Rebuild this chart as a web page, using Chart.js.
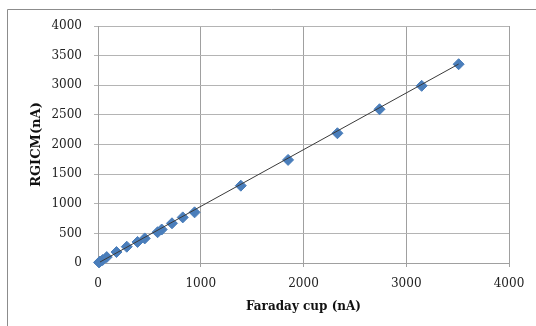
<!DOCTYPE html>
<html>
<head>
<meta charset="utf-8">
<script src="https://cdn.jsdelivr.net/npm/chart.js@4"></script>
<style>
  html, body { margin: 0; padding: 0; background: #fff; }
  canvas { display: block; }
</style>
</head>
<body>
<canvas id="chart" width="536" height="326"></canvas>
<script>
// Faraday cup vs RGICM beam current (nA)
const faraday = [10, 20, 45, 85, 180, 280, 385, 455, 580, 620, 720, 825, 940, 1390, 1850, 2330, 2740, 3150, 3510];
const rgicm = [10, 25, 50, 100, 185, 275, 355, 415, 520, 565, 670, 770, 855, 1305, 1740, 2190, 2595, 2990, 3355];

// trendline ends
const trendX = [20, 3510];
const trendY = [17, 3358];

const xTitle = 'Faraday cup (nA)';
const yTitle = 'RGICM(nA)';

// outer frame of the chart (cropped on right and bottom)
const framePlugin = {
    id: 'frame',
    beforeDraw(chart) {
        const ctx = chart.ctx;
        ctx.save();
        ctx.fillStyle = '#fff';
        ctx.fillRect(0, 0, chart.width, chart.height);
        ctx.strokeStyle = '#8c8c8c';
        ctx.lineWidth = 1;
        ctx.beginPath();
        ctx.moveTo(7.5, chart.height);
        ctx.lineTo(7.5, 9.5);
        ctx.lineTo(chart.width, 9.5);
        ctx.stroke();
        ctx.restore();
    }
};

const tickFont = { family: '"DejaVu Serif", serif', size: 12 };

new Chart(document.getElementById('chart'), {
    type: 'scatter',
    data: {
        datasets: [{
            label: 'RGICM',
            data: faraday.map((x, i) => ({ x: x, y: rgicm[i] })),
            pointStyle: 'rectRot',
            pointRadius: 5.5,
            pointHoverRadius: 5.5,
            backgroundColor: '#4a7ebb',
            borderColor: '#4a7ebb',
            borderWidth: 1,
            clip: false,
            order: 2
        }, {
            label: 'Linear',
            type: 'line',
            data: trendX.map((x, i) => ({ x: x, y: trendY[i] })),
            borderColor: '#3a3a3a',
            borderWidth: 1,
            pointRadius: 0,
            fill: false,
            order: 1
        }]
    },
    options: {
        responsive: false,
        animation: false,
        layout: {
            padding: { top: 26, right: 27, bottom: 8, left: 10 }
        },
        plugins: {
            legend: { display: false },
            tooltip: { enabled: false }
        },
        scales: {
            x: {
                type: 'linear',
                min: 0,
                max: 4000,
                ticks: {
                    stepSize: 1000, color: '#222', font: tickFont, padding: 10,
                    maxRotation: 0, autoSkip: false,
                    callback: v => String(v)
                },
                grid: { color: '#a0a0a0', tickLength: 4, drawTicks: true },
                border: { color: '#a0a0a0' },
                title: {
                    display: true,
                    text: xTitle,
                    color: '#111',
                    font: { family: '"DejaVu Serif", serif', size: 12, weight: 'bold' },
                    padding: { top: 0, bottom: 4 }
                },
                afterFit(scale) {
                    scale.height = 55;
                    scale.paddingLeft = 0;
                    scale.paddingRight = 0;
                }
            },
            y: {
                type: 'linear',
                min: 0,
                max: 4000,
                ticks: {
                    stepSize: 500, color: '#222', font: tickFont, padding: 12,
                    autoSkip: false,
                    callback: v => String(v)
                },
                grid: { color: '#b4b4b4', tickLength: 4, drawTicks: true },
                border: { color: '#a0a0a0' },
                title: {
                    display: true,
                    text: yTitle,
                    color: '#111',
                    font: { family: '"DejaVu Serif", serif', size: 13, weight: 'bold' },
                    padding: { top: 19, bottom: 0 }
                },
                afterFit(scale) {
                    scale.width = 88;
                    scale.paddingTop = 0;
                    scale.paddingBottom = 0;
                }
            }
        }
    },
    plugins: [framePlugin]
});
</script>
</body>
</html>
